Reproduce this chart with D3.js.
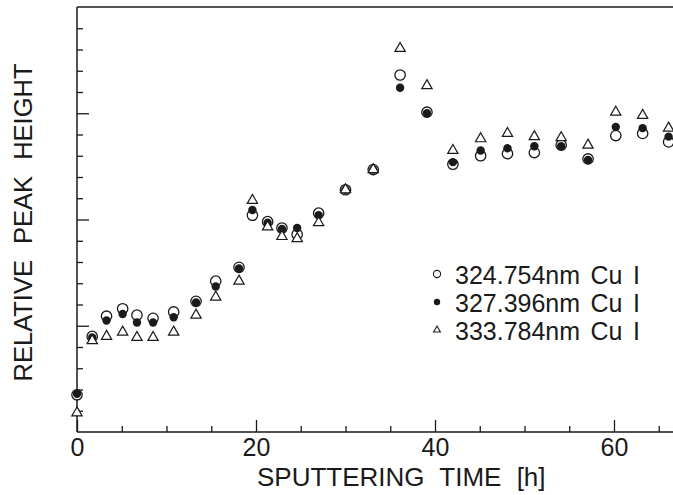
<!DOCTYPE html>
<html>
<head>
<meta charset="utf-8">
<script src="https://cdn.jsdelivr.net/npm/d3@7"></script>
<style>
  html, body { margin: 0; padding: 0; background: #fff; }
  svg { display: block; }
  text { font-family: "Liberation Sans", Arial, Helvetica, sans-serif; fill: #1a1a1a; }
</style>
</head>
<body>
<svg id="chart" width="673" height="495"></svg>
<script>
// ---- data ----
const times = [0, 1.7, 3.3, 5.1, 6.7, 8.5, 10.8, 13.3, 15.5, 18.1, 19.6, 21.3, 22.9, 24.6, 27.0, 30.0, 33.1, 36.1, 39.1, 42.0, 45.1, 48.1, 51.1, 54.1, 57.1, 60.2, 63.2, 66.1];
const cu324 = [0.35, 0.90, 1.09, 1.16, 1.10, 1.07, 1.13, 1.23, 1.42, 1.55, 2.04, 1.98, 1.92, 1.86, 2.06, 2.28, 2.47, 3.36, 3.01, 2.52, 2.60, 2.62, 2.63, 2.70, 2.57, 2.79, 2.81, 2.73];
const cu327 = [0.36, 0.89, 1.05, 1.11, 1.03, 1.03, 1.08, 1.22, 1.37, 1.54, 2.09, 1.97, 1.91, 1.92, 2.04, 2.28, 2.47, 3.24, 3.00, 2.54, 2.65, 2.67, 2.69, 2.69, 2.56, 2.87, 2.86, 2.78];
const cu333 = [0.18, 0.86, 0.90, 0.94, 0.89, 0.89, 0.94, 1.10, 1.27, 1.42, 2.18, 1.93, 1.84, 1.82, 1.97, 2.28, 2.47, 3.61, 3.26, 2.65, 2.76, 2.81, 2.78, 2.77, 2.70, 3.01, 2.98, 2.86];
const seriesNames = ["324.754nm Cu I", "327.396nm Cu I", "333.784nm Cu I"];
const xMajorTicks = [0, 20, 40, 60];
const xMinorTicks = [5, 10, 15, 25, 30, 35, 45, 50, 55, 65];
const yMajorTicks = [1, 2, 3];
const yMinorTicks = [0.2, 0.4, 0.6, 0.8, 1.2, 1.4, 1.6, 1.8, 2.2, 2.4, 2.6, 2.8, 3.2, 3.4, 3.6, 3.8];
const xTitle = "SPUTTERING TIME [h]";
const yTitle = "RELATIVE PEAK HEIGHT";

// ---- layout ----
const W = 673, H = 495;
const pLeft = 77, pRight = 673, pTop = 7, pBottom = 432;
const svg = d3.select("#chart");
const ink = "#1a1a1a";

const x = d3.scaleLinear().domain([0, 60]).range([pLeft, 614]);
const y = d3.scaleLinear().domain([0, 4]).range([pBottom, pTop]);

// frame lines
svg.append("line").attr("x1", pLeft).attr("x2", pRight).attr("y1", pBottom).attr("y2", pBottom)
  .attr("stroke", ink).attr("stroke-width", 1.5);
svg.append("line").attr("x1", pLeft).attr("x2", pRight).attr("y1", pTop).attr("y2", pTop)
  .attr("stroke", ink).attr("stroke-width", 1.5);
svg.append("line").attr("x1", pLeft).attr("x2", pLeft).attr("y1", pTop).attr("y2", pBottom)
  .attr("stroke", ink).attr("stroke-width", 1.5);

// x axis ticks
const xMaj = svg.append("g").attr("transform", `translate(0,${pBottom})`)
  .call(d3.axisBottom(x).tickValues(xMajorTicks).tickSize(-12).tickPadding(6).tickFormat(d3.format("d")));
const xMin = svg.append("g").attr("transform", `translate(0,${pBottom})`)
  .call(d3.axisBottom(x).tickValues(xMinorTicks).tickSize(-6).tickFormat(""));
// y axis ticks
const yMaj = svg.append("g").attr("transform", `translate(${pLeft},0)`)
  .call(d3.axisLeft(y).tickValues(yMajorTicks).tickSize(-12).tickFormat(""));
const yMin = svg.append("g").attr("transform", `translate(${pLeft},0)`)
  .call(d3.axisLeft(y).tickValues(yMinorTicks).tickSize(-6).tickFormat(""));

[xMaj, xMin, yMaj, yMin].forEach(g => {
  g.select(".domain").remove();
  g.selectAll(".tick line").attr("stroke", ink).attr("stroke-width", 1.3);
  g.selectAll(".tick text").attr("font-size", 25).attr("fill", ink)
    .attr("font-family", '"Liberation Sans", Arial, Helvetica, sans-serif');
});

// axis titles
svg.append("text")
  .attr("x", 257).attr("y", 486)
  .attr("font-size", 26).attr("word-spacing", 8)
  .text(xTitle);

svg.append("text")
  .attr("transform", "translate(32,222.5) rotate(-90)")
  .attr("text-anchor", "middle")
  .attr("font-size", 25.5).attr("word-spacing", 9)
  .text(yTitle);

// data marks
const pts = times.map((t, i) => ({ t, a: cu324[i], b: cu327[i], c: cu333[i] }));
const tri = d3.symbol().type(d3.symbolTriangle).size(46);
const triSmall = d3.symbol().type(d3.symbolTriangle).size(20);

svg.append("g").selectAll("circle").data(pts).join("circle")
  .attr("cx", d => x(d.t)).attr("cy", d => y(d.a)).attr("r", 5.2)
  .attr("fill", "#fff").attr("stroke", ink).attr("stroke-width", 1.3);

svg.append("g").selectAll("circle").data(pts).join("circle")
  .attr("cx", d => x(d.t)).attr("cy", d => y(d.b)).attr("r", 4.2)
  .attr("fill", ink);

svg.append("g").selectAll("path").data(pts).join("path")
  .attr("d", tri)
  .attr("transform", d => `translate(${x(d.t)},${y(d.c)})`)
  .attr("fill", "#fff").attr("stroke", ink).attr("stroke-width", 1.2);

// legend
const legY = [274, 302, 330];
const legBase = [284, 312, 340];
const lg = svg.append("g");
lg.append("circle").attr("cx", 437).attr("cy", legY[0]).attr("r", 3.6)
  .attr("fill", "#fff").attr("stroke", ink).attr("stroke-width", 1.1);
lg.append("circle").attr("cx", 437).attr("cy", legY[1]).attr("r", 3.2).attr("fill", ink);
lg.append("path").attr("d", triSmall).attr("transform", `translate(437,${legY[2]})`)
  .attr("fill", "#fff").attr("stroke", ink).attr("stroke-width", 1.1);
lg.selectAll("text").data(seriesNames).join("text")
  .attr("x", 455).attr("y", (d, i) => legBase[i])
  .attr("font-size", 25).attr("word-spacing", 3.5)
  .text(d => d);
</script>
</body>
</html>
